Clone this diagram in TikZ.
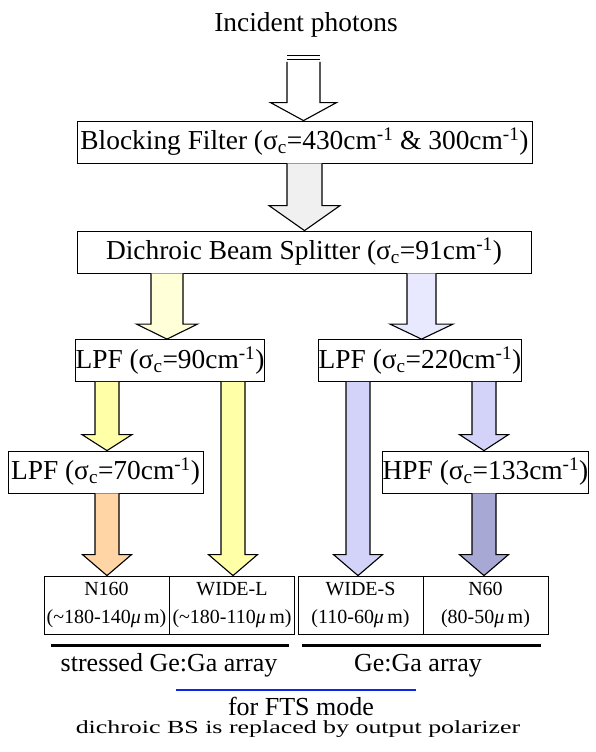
\documentclass[tikz,border=0pt]{standalone}
\usepackage{fontspec}
\setmainfont{Liberation Serif}
\newfontfamily\widefont[FakeStretch=1.4]{Liberation Serif}
\usetikzlibrary{calc}
\usetikzlibrary{positioning}
\definecolor{greyflux}{HTML}{F0F0F0}
\definecolor{paleyellow}{HTML}{FFFFD8}
\definecolor{yellowflux}{HTML}{FFFFA8}
\definecolor{orangeflux}{HTML}{FFD5A5}
\definecolor{paleblue}{HTML}{E8E8FF}
\definecolor{blueflux}{HTML}{D3D3FA}
\definecolor{darkblueflux}{HTML}{A8A8D5}
\definecolor{ftsblue}{HTML}{0A28E6}
\tikzstyle{filterbox}=[draw,line width=0.8pt,fill=white,inner sep=0pt,minimum height=42pt,font=\fontsize{27.4}{30}\selectfont]
\tikzstyle{detbox}=[draw,line width=0.8pt,inner sep=0pt,minimum width=125pt,minimum height=58pt,align=center,font=\fontsize{20}{28}\selectfont]
\tikzstyle{fatarrow}=[draw,line width=1.1pt]
\tikzstyle{arraytext}=[inner sep=0pt,anchor=base,font=\fontsize{26}{28}\selectfont]
\newcommand{\sigc}{σ\textsubscript{c}}
\newcommand{\icm}{cm\textsuperscript{-1}}
% fill, x, shaft half width, head half width, head length, from, to
\newcommand{\fatarrow}[7]{%
  \draw[fatarrow, fill=#1] let \p1=(#6), \p2=(#7) in
    (#2-#3,\y1) -- (#2-#3,\y2+#5) -- (#2-#4,\y2+#5) -- (#2,\y2)
    -- (#2+#4,\y2+#5) -- (#2+#3,\y2+#5) -- (#2+#3,\y1);}

\begin{document}
\begin{tikzpicture}[x=1pt, y=-1pt]
  \useasboundingbox (0,0) rectangle (595,752);

  \node[arraytext, font=\fontsize{27.4}{30}\selectfont] (photons) at (306,32) {Incident photons};
  \coordinate (src) at (303.5,62);

  \node[filterbox, minimum width=455pt] (blockflt) at (304.5,142) {Blocking Filter (\sigc=430\icm{} \& 300\icm)};
  \node[filterbox, minimum width=454pt] (dichroic) at (304,252) {Dichroic Beam Splitter (\sigc=91\icm)};
  \node[filterbox, minimum width=188pt] (lpfl) at (170,360.5) {LPF (\sigc=90\icm)};
  \node[filterbox, minimum width=200pt] (lpfs) at (420,360.5) {LPF (\sigc=220\icm)};
  \node[filterbox, minimum width=195pt] (lpfn) at (105.5,472) {LPF (\sigc=70\icm)};
  \node[filterbox, minimum width=203pt] (hpf) at (485.5,472) {HPF (\sigc=133\icm)};

  \foreach \x/\name/\txt in {106.5/n160/{N160\\(\textasciitilde180-140\textit{μ}\,m)},
                             232/widel/{WIDE-L\\(\textasciitilde180-110\textit{μ}\,m)},
                             360.5/wides/{WIDE-S\\(110-60\textit{μ}\,m)},
                             485.5/n60/{N60\\(80-50\textit{μ}\,m)}}
    \node[detbox] (\name) at (\x,605) {\txt};

  % photon flux
  \fatarrow{white}{303.5}{16.5}{33}{18}{src}{blockflt.north}
  \draw[line width=1.6pt] ([xshift=-16.5pt,yshift=6.5pt]src) -- ++(33,0);
  \draw[line width=0.9pt] ([xshift=-16.5pt,yshift=3pt]src) -- ++(33,0);
  \fatarrow{greyflux}{304.5}{17.5}{35.5}{25}{blockflt.south}{dichroic.north}
  \fatarrow{paleyellow}{167}{16}{30.5}{15}{dichroic.south}{lpfl.north}
  \fatarrow{paleblue}{421.5}{14.5}{31.5}{15}{dichroic.south}{lpfs.north}
  \fatarrow{yellowflux}{107}{12}{25}{16}{lpfl.south}{lpfn.north}
  \fatarrow{blueflux}{484}{12}{24.5}{16}{lpfs.south}{hpf.north}
  \fatarrow{orangeflux}{107}{12}{24.5}{21}{lpfn.south}{n160.north}
  \fatarrow{yellowflux}{233}{12}{24.5}{21}{lpfl.south}{widel.north}
  \fatarrow{blueflux}{358}{12}{24.5}{21}{lpfs.south}{wides.north}
  \fatarrow{darkblueflux}{484}{12}{24.5}{21}{hpf.south}{n60.north}

  % detector arrays
  \draw[line width=3pt] (51,645) -- (289,645);
  \draw[line width=3pt] (302,645) -- (541,645);
  \node[arraytext] (stressed) at (169,671) {stressed Ge:Ga array};
  \node[arraytext] (gega) at (418,671) {Ge:Ga array};
  \draw[line width=2.5pt, ftsblue] (176,690) -- (416,690);
  \node[arraytext] (fts) at (301,715) {for FTS mode};
  \node[arraytext, font=\widefont\fontsize{18.5}{20}\selectfont] (note) at (298,733.5) {dichroic BS is replaced by output polarizer};
\end{tikzpicture}
\end{document}
